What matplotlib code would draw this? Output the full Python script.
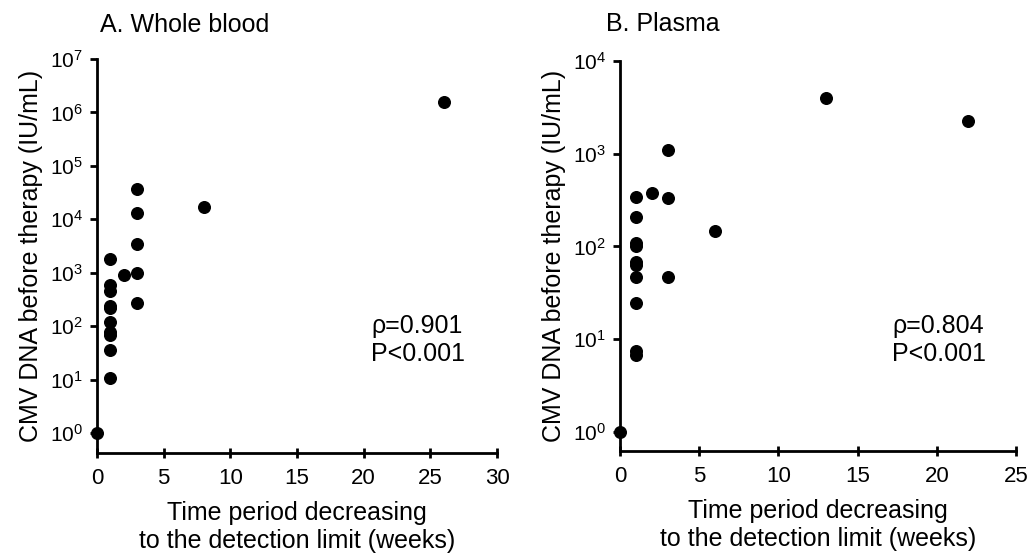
import math
import matplotlib
matplotlib.use('Agg')
import matplotlib.pyplot as plt
from matplotlib.ticker import FixedLocator, FuncFormatter

plt.rcParams.update({
    'font.family': ['Liberation Sans', 'DejaVu Sans'],
    'mathtext.fontset': 'custom',
    'mathtext.rm': 'Liberation Sans',
    'mathtext.it': 'Liberation Sans:italic',
    'mathtext.bf': 'Liberation Sans:bold',
    'axes.linewidth': 2.0,
})

# ---- data ----
blood_weeks = [0, 1, 1, 1, 1, 1, 1, 1, 1, 1, 1, 2, 3, 3, 3, 3, 3, 8, 26]
blood_dna = [1, 1770, 585, 452, 243, 214, 120, 76, 67, 35, 10.7, 887,
             36300, 12900, 3380, 995, 273, 16700, 1.55e6]

plasma_weeks = [0, 1, 1, 1, 1, 1, 1, 1, 1, 1, 1, 2, 3, 3, 3, 6, 13, 22]
plasma_dna = [1, 339, 206, 108, 100, 68.6, 63, 47, 24.8, 7.5, 6.8, 380,
              1097, 333, 46.5, 148, 3990, 2235]

blood_stats = 'ρ=0.901\nP<0.001'
plasma_stats = 'ρ=0.804\nP<0.001'

ylabel = 'CMV DNA before therapy (IU/mL)'
xlabel = 'Time period decreasing\nto the detection limit (weeks)'

fig = plt.figure(figsize=(10.33, 5.55), dpi=100)

W, H = 1033, 555


def add_axes(px_left, px_right, px_top, px_bottom):
    return fig.add_axes([px_left / W, 1 - px_bottom / H,
                         (px_right - px_left) / W, (px_bottom - px_top) / H])


def style(ax, xmax, ymax_exp, ymin):
    ax.set_yscale('log')
    ax.set_xlim(0, xmax)
    ax.set_ylim(ymin, 10 ** ymax_exp)
    ax.spines['top'].set_visible(False)
    ax.spines['right'].set_visible(False)
    ax.yaxis.set_major_locator(FixedLocator([10 ** e for e in range(ymax_exp + 1)]))
    ax.yaxis.set_minor_locator(FixedLocator([]))
    ax.yaxis.set_major_formatter(FuncFormatter(
        lambda v, p: r'$\mathregular{10^{%d}}$' % round(math.log10(v))))
    ax.set_xticks(range(0, xmax + 1, 5))
    ax.tick_params(axis='y', direction='out', length=5, width=2,
                   labelsize=15, pad=5)
    ax.tick_params(axis='x', direction='inout', length=7, width=2,
                   labelsize=16, pad=7)
    ax.set_ylabel(ylabel, fontsize=18, labelpad=5)
    ax.set_xlabel(xlabel, fontsize=18, labelpad=9, linespacing=1.2)


# Panel A
axA = add_axes(97, 497, 59, 453)
axA.scatter(blood_weeks, blood_dna, s=70, color='black', zorder=3, clip_on=False)
style(axA, 30, 7, 10 ** -0.375)
axA.text(0.685, 0.287, blood_stats, transform=axA.transAxes, fontsize=18,
         ha='left', va='center', linespacing=1.2)
fig.text(100 / W, 1 - 25 / H, 'A. Whole blood', fontsize=18, ha='left', va='center')

# Panel B
axB = add_axes(620, 1016, 61, 451)
axB.scatter(plasma_weeks, plasma_dna, s=70, color='black', zorder=3, clip_on=False)
style(axB, 25, 4, 10 ** -0.205)
axB.text(0.688, 0.285, plasma_stats, transform=axB.transAxes, fontsize=18,
         ha='left', va='center', linespacing=1.2)
fig.text(606 / W, 1 - 24 / H, 'B. Plasma', fontsize=18, ha='left', va='center')

fig.savefig('out.png', dpi=100)
